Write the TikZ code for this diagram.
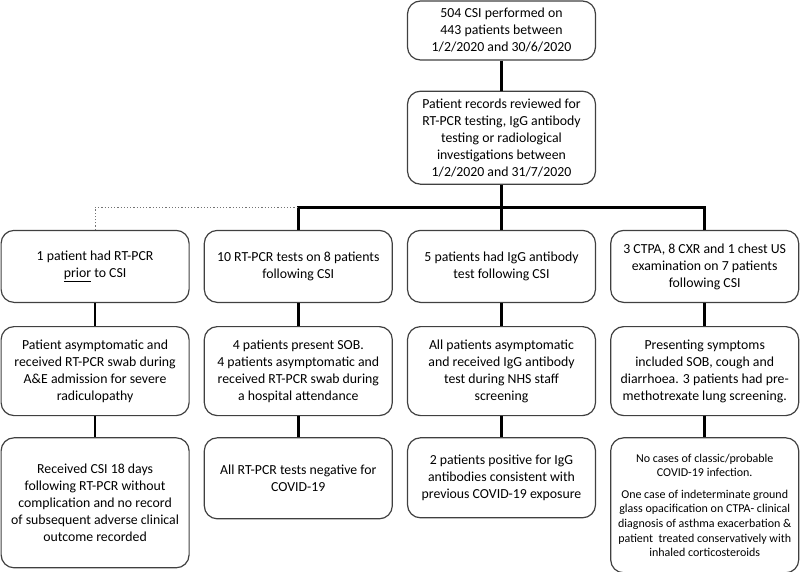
\documentclass[tikz,border=0pt]{standalone}
\usepackage{fontspec}
\setmainfont{Carlito}
\usetikzlibrary{positioning,calc}

\tikzset{
  box/.style={draw=black!75, line width=1.2pt, rounded corners=13pt, align=center,
    inner sep=2pt, minimum width=188pt, font=\fontsize{13.8}{17}\selectfont},
  small/.style={font=\fontsize{12}{14.6}\selectfont},
  link/.style={line width=2.6pt},
  prior/.style={draw=black!55, line width=1.2pt, dotted},
}

\begin{document}
\begin{tikzpicture}[x=1pt,y=1pt,node distance=14pt]
\useasboundingbox (0,0) rectangle (800,-572);

\node[box, minimum height=59pt] (csi) at (501.5,-30.5)
  {504 CSI performed on\\443 patients between\\1/2/2020 and 30/6/2020};
\node[box, minimum height=93pt] (records) [below=30pt of csi]
  {Patient records reviewed for\\RT-PCR testing, IgG antibody\\testing or radiological\\investigations between\\1/2/2020 and 31/7/2020};

% first row
\node[box, minimum height=72pt] (igg) [below=45pt of records]
  {5 patients had IgG antibody\\test following CSI};
\node[box, minimum height=72pt] (pcr) [left=of igg]
  {10 RT-PCR tests on 8 patients\\following CSI};
\node[box, minimum height=72pt] (before) [left=of pcr]
  {1 patient had RT-PCR\\\underline{prior} to CSI};
\node[box, minimum height=72pt] (scan) [right=of igg]
  {3 CTPA, 8 CXR and 1 chest US\\examination on 7 patients\\following CSI};

% second row
\node[box, minimum height=89pt] (before2) [below=23pt of before]
  {Patient asymptomatic and\\received RT-PCR swab during\\A\&E admission for severe\\radiculopathy};
\node[box, minimum height=89pt] (pcr2) [below=23pt of pcr]
  {4 patients present SOB.\\4 patients asymptomatic and\\received RT-PCR swab during\\a hospital attendance};
\node[box, minimum height=89pt] (igg2) [below=23pt of igg]
  {All patients asymptomatic\\and received IgG antibody\\test during NHS staff\\screening};
\node[box, minimum height=89pt] (scan2) [below=23pt of scan]
  {Presenting symptoms\\included SOB, cough and\\diarrhoea. 3 patients had pre-\\methotrexate lung screening.};

% third row
\node[box, minimum height=130pt] (before3) [below=21pt of before2]
  {Received CSI 18 days\\following RT-PCR without\\complication and no record\\of subsequent adverse clinical\\outcome recorded};
\node[box, minimum height=81pt] (pcr3) [below=21pt of pcr2]
  {All RT-PCR tests negative for\\COVID-19};
\node[box, minimum height=80pt] (igg3) [below=21pt of igg2]
  {2 patients positive for IgG\\antibodies consistent with\\previous COVID-19 exposure};
\node[box, small, minimum height=135pt] (scan3) [below=21pt of scan2]
  {No cases of classic/probable\\COVID-19 infection.\\[7pt]One case of indeterminate ground\\glass opacification on CTPA- clinical\\diagnosis of asthma exacerbation \&\\patient\ \ treated conservatively with\\inhaled corticosteroids};

\coordinate (bus) at ($(records.south)!0.5!(igg.north)$);

\draw[link] (csi) -- (records);
\draw[link] (records) -- (igg);
\draw[link] (pcr.north) |- (bus) -| (scan.north);
\draw[prior] (before.north) |- (pcr.north |- bus);

\foreach \col in {before,pcr,igg,scan}{
  \draw[link] (\col) -- (\col2);
  \draw[link] (\col2) -- (\col3);
}
\end{tikzpicture}
\end{document}
